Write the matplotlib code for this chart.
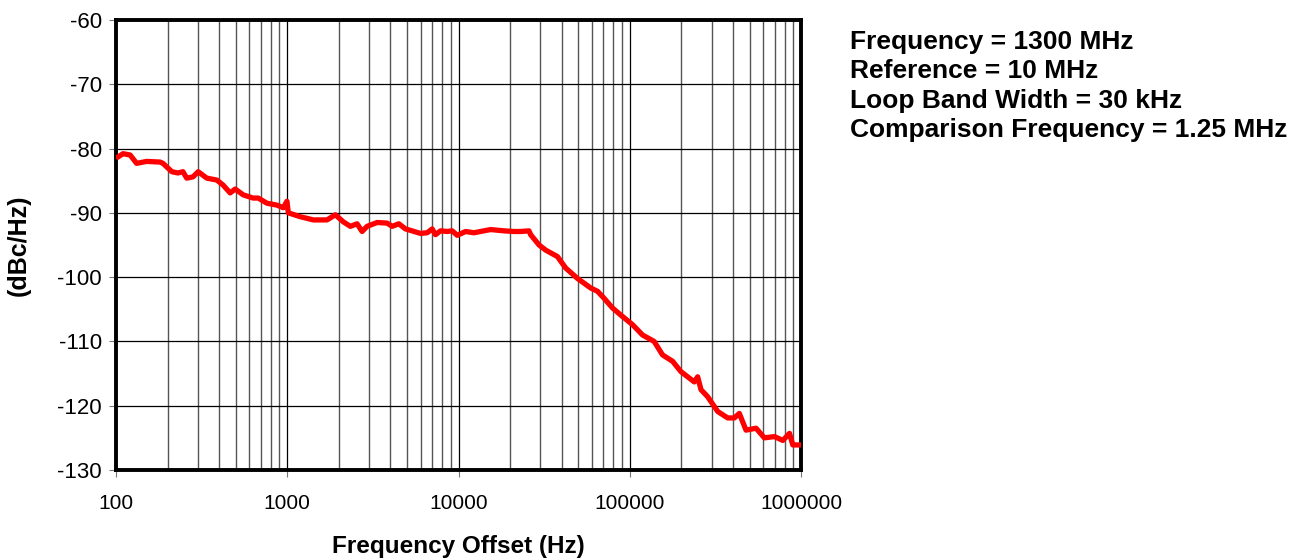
import matplotlib
matplotlib.use('Agg')
import matplotlib.pyplot as plt
from matplotlib.ticker import LogLocator, FixedLocator, NullFormatter

plt.rcParams['font.family'] = ['Liberation Sans', 'DejaVu Sans']

# phase noise curve
freq = [100, 110, 121, 132, 151, 181, 188, 212, 230, 246, 259, 282, 302, 339,
        388, 423, 464, 497, 553, 632, 677, 761, 871, 948, 996, 1014, 1191, 1420,
        1707, 1909, 2125, 2336, 2556, 2735, 2925, 3349, 3831, 4096, 4480, 4900,
        5995, 6561, 7016, 7330, 7850, 8590, 9185, 9820, 10990, 12280, 14050,
        15380, 18400, 21040, 23060, 25770, 26370, 29510, 32280, 37770, 42270,
        49440, 59160, 64740, 70790, 79240, 88540, 103700, 118600, 138600,
        155200, 177800, 198700, 217400, 237700, 248800, 260100, 284600, 325800,
        372400, 407400, 435500, 476600, 545300, 609800, 698300, 781600, 855000,
        893800, 1000000]
noise = [-81.5, -80.8, -81.0, -82.3, -82.0, -82.1, -82.3, -83.6, -83.8, -83.6,
         -84.6, -84.4, -83.6, -84.6, -84.9, -85.7, -86.9, -86.3, -87.2, -87.7,
         -87.7, -88.5, -88.8, -89.2, -88.2, -90.0, -90.6, -91.1, -91.1, -90.3,
         -91.4, -92.1, -91.7, -92.9, -92.1, -91.5, -91.6, -92.1, -91.7, -92.5,
         -93.2, -93.1, -92.5, -93.4, -92.8, -92.9, -92.8, -93.5, -92.9, -93.1,
         -92.8, -92.6, -92.8, -92.9, -92.9, -92.8, -93.4, -95.0, -95.8, -96.8,
         -98.6, -100.2, -101.7, -102.2, -103.3, -104.8, -105.9, -107.4, -109.0,
         -110.0, -112.1, -113.1, -114.7, -115.5, -116.3, -115.5, -117.5, -118.6,
         -120.9, -121.9, -121.9, -121.2, -123.8, -123.5, -125.0, -124.8, -125.4,
         -124.3, -126.1, -126.1]

x_ticks = [100, 1000, 10000, 100000, 1000000]
y_ticks = list(range(-130, -59, 10))
notes = ['Frequency = 1300 MHz', 'Reference = 10 MHz',
         'Loop Band Width = 30 kHz', 'Comparison Frequency = 1.25 MHz']

fig = plt.figure(figsize=(12.97, 5.58), dpi=100)
ax = fig.add_axes([0.0894, 0.1577, 0.5283, 0.8065])

ax.plot(freq, noise, color='#ff0000', lw=3.8, solid_joinstyle='round',
        solid_capstyle='butt', zorder=3)

ax.set_xscale('log')
ax.set_xlim(100, 1000000)
ax.set_ylim(-130, -60)
ax.xaxis.set_major_locator(FixedLocator(x_ticks))
ax.set_xticklabels([str(t) for t in x_ticks], fontsize=15)
ax.xaxis.set_minor_locator(LogLocator(base=10, subs=range(2, 10)))
ax.xaxis.set_minor_formatter(NullFormatter())
ax.set_yticks(y_ticks)
ax.set_yticklabels([str(t) for t in y_ticks], fontsize=16)

ax.grid(True, which='major', axis='both', color='black', lw=0.9)
ax.grid(True, which='minor', axis='x', color='#555555', lw=1.0)
ax.set_axisbelow(True)

for s in ax.spines.values():
    s.set_linewidth(2.8)
ax.tick_params(axis='both', which='major', length=5,
               width=0.8, color='#777777')
ax.tick_params(axis='x', which='major', pad=12)
ax.tick_params(axis='y', which='major', pad=5)
ax.tick_params(axis='x', which='minor', length=0)

ax.set_xlabel('Frequency Offset (Hz)', fontsize=17.5, fontweight='bold',
              labelpad=16)
ax.set_ylabel('(dBc/Hz)', fontsize=18, fontweight='bold', labelpad=19)

for i, t in enumerate(notes):
    fig.text(850 / 1297, 1 - (42 + i * 29.3) / 558, t, fontsize=19,
             fontweight='bold', va='center', ha='left')

fig.savefig('out.png', dpi=100)
